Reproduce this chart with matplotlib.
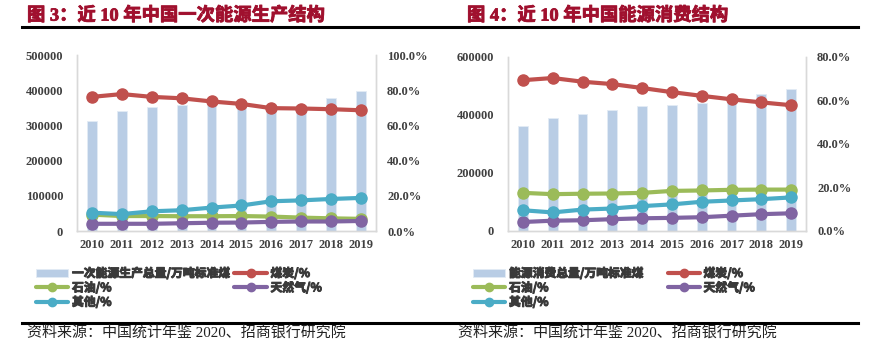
import matplotlib
matplotlib.use("Agg")
import matplotlib.pyplot as plt
from matplotlib.font_manager import FontProperties
from matplotlib.lines import Line2D
import matplotlib.patheffects as pe
import numpy as np

years = ["2010", "2011", "2012", "2013", "2014", "2015", "2016", "2017", "2018", "2019"]

prod_total = [312125, 340178, 351041, 358784, 361866, 361476, 346037, 358867, 378859, 397317]
prod_coal = [76.2, 77.8, 76.2, 75.4, 73.6, 72.2, 69.8, 69.6, 69.2, 68.6]
prod_oil = [9.3, 8.5, 8.5, 8.4, 8.4, 8.5, 8.2, 7.6, 7.2, 6.9]
prod_gas = [4.1, 4.1, 4.1, 4.4, 4.7, 4.8, 5.2, 5.4, 5.4, 5.7]
prod_other = [10.4, 9.6, 11.2, 11.8, 13.3, 14.5, 16.9, 17.4, 18.2, 18.8]

cons_total = [360648, 387043, 402138, 416913, 428334, 434113, 441492, 455827, 471925, 487488]
cons_coal = [69.2, 70.2, 68.5, 67.4, 65.6, 63.7, 62.0, 60.4, 59.0, 57.7]
cons_oil = [17.4, 16.8, 17.0, 17.1, 17.4, 18.3, 18.5, 18.8, 18.9, 18.9]
cons_gas = [4.0, 4.6, 4.8, 5.3, 5.7, 5.9, 6.2, 6.9, 7.6, 8.0]
cons_other = [9.4, 8.4, 9.7, 10.2, 11.3, 12.1, 13.3, 13.9, 14.5, 15.3]

titles = ["图 3：近 10 年中国一次能源生产结构", "图 4：近 10 年中国能源消费结构"]
bar_labels = ["一次能源生产总量/万吨标准煤", "能源消费总量/万吨标准煤"]
line_labels = ["煤炭/%", "石油/%", "天然气/%", "其他/%"]
source = "资料来源：中国统计年鉴 2020、招商银行研究院"

BAR_C = "#B9CDE5"
LINE_C = ["#C0504D", "#9BBB59", "#8064A2", "#4BACC6"]
SPINE_C = "#D9D9D9"
TICK_C = "#404040"
LEG_C = "#3a3a3a"
TITLE_C = "#A0102E"

W, H = 883, 359
fig = plt.figure(figsize=(W / 100, H / 100), dpi=100)


def fx(px):
    return px / W


def fy(py):
    return 1 - py / H


tick_fp = FontProperties(family=["Liberation Serif", "Noto Sans CJK SC"], weight="bold", size=9)
leg_fp = FontProperties(family=["Noto Sans CJK SC", "DejaVu Sans"], weight="bold", size=8.5)


def make_chart(rect, total, shares, ymax, ystep, pmax, bar_label, leg_x1, leg_x2):
    ax = fig.add_axes(rect)
    x = np.arange(len(years))
    bars = ax.bar(x, total, width=0.33, color=BAR_C, edgecolor="#E3EBF5", linewidth=0.6,
                  label=bar_label, zorder=2)
    ax.set_xlim(-0.5, len(years) - 0.5)
    ax.set_ylim(0, ymax)
    ax.set_yticks(np.arange(0, ymax + 1, ystep))
    ax.set_yticklabels([f"{int(v)}" for v in np.arange(0, ymax + 1, ystep)])
    ax.set_xticks(x)
    ax.set_xticklabels(years)
    ax2 = ax.twinx()
    handles = []
    for vals, c, lab in zip(shares, LINE_C, line_labels):
        h, = ax2.plot(x, vals, color=c, lw=3, marker="o", markersize=8, label=lab,
                      solid_capstyle="round", zorder=3)
        handles.append(h)
    ax2.set_ylim(0, pmax)
    ax2.set_yticks(np.arange(0, pmax + 1, 20))
    ax2.set_yticklabels([f"{v:.1f}%" for v in np.arange(0, pmax + 1, 20)])
    for a in (ax, ax2):
        a.spines["top"].set_visible(False)
        for s in ("left", "right", "bottom"):
            a.spines[s].set_color(SPINE_C)
            a.spines[s].set_linewidth(1.0)
        a.tick_params(length=0, colors=TICK_C)
        for lab in a.get_xticklabels() + a.get_yticklabels():
            lab.set_fontproperties(tick_fp)
            lab.set_color(TICK_C)
    ax.tick_params(axis="y", pad=10)
    ax.tick_params(axis="x", pad=6)
    ax2.tick_params(axis="y", pad=8)

    common = dict(frameon=False, prop=leg_fp, handlelength=2.75, handletextpad=0.3,
                  labelspacing=0.12, borderpad=0, borderaxespad=0, numpoints=1,
                  markerscale=0.75, loc="upper left", labelcolor=LEG_C)
    legs = [
        fig.legend([bars, handles[1], handles[3]], [bar_label, line_labels[1], line_labels[3]],
                   bbox_to_anchor=(fx(leg_x1), fy(267)), **common),
        fig.legend([handles[0], handles[2]], [line_labels[0], line_labels[2]],
                   bbox_to_anchor=(fx(leg_x2), fy(267)), **common),
    ]
    for lg in legs:
        for t in lg.get_texts():
            t.set_path_effects([pe.withStroke(linewidth=0.7, foreground=LEG_C)])
    return ax, ax2


make_chart([fx(77), fy(231), fx(376) - fx(77), fy(55) - fy(231)], prod_total,
           [prod_coal, prod_oil, prod_gas, prod_other], 500000, 100000, 100,
           bar_labels[0], 36, 234.5)
make_chart([fx(508), fy(230.7), fx(806) - fx(508), fy(56.7) - fy(230.7)], cons_total,
           [cons_coal, cons_oil, cons_gas, cons_other], 600000, 200000, 80,
           bar_labels[1], 473, 667.5)

title_fp = FontProperties(family=["Liberation Serif", "Noto Sans CJK SC"], weight="bold", size=13.2)
for tx, tt in ((27, titles[0]), (467, titles[1])):
    t = fig.text(fx(tx), fy(15.5), tt, fontproperties=title_fp, color=TITLE_C, va="center", ha="left")
    t.set_path_effects([pe.withStroke(linewidth=0.6, foreground=TITLE_C)])

fig.add_artist(Line2D([fx(22), fx(858)], [fy(26.7), fy(26.7)], color="black", lw=2.2,
                      transform=fig.transFigure))
fig.add_artist(Line2D([fx(22), fx(858)], [fy(323.3), fy(323.3)], color="black", lw=2.2,
                      transform=fig.transFigure))

src_fp = FontProperties(family=["Liberation Serif", "Noto Sans CJK SC"], size=10.8)
fig.text(fx(27), fy(332), source, fontproperties=src_fp, color="#222222", va="center", ha="left")
fig.text(fx(458), fy(332), source, fontproperties=src_fp, color="#222222", va="center", ha="left")

fig.savefig("out.png", dpi=100)
